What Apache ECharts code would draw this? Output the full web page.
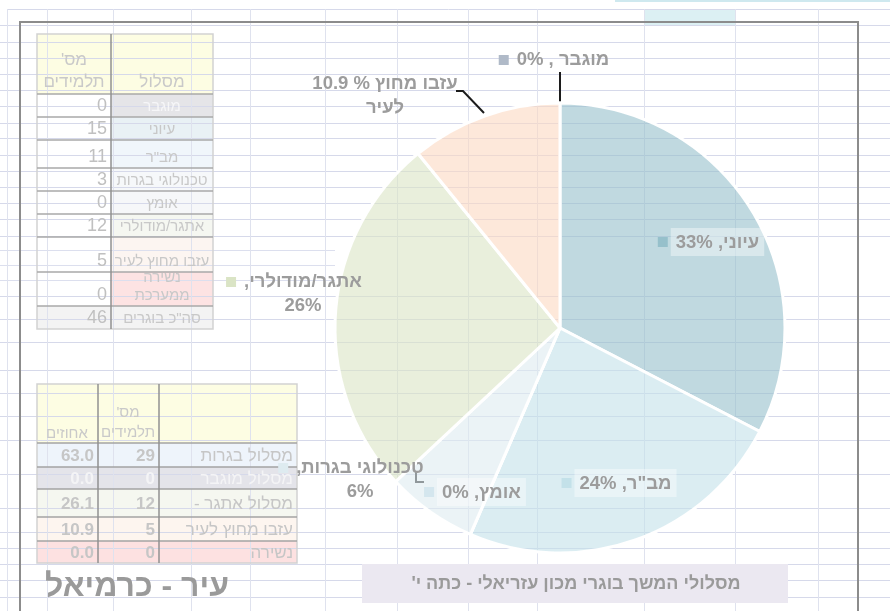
<!DOCTYPE html>
<html lang="he">
<head>
<meta charset="UTF-8">
<title>מסלולי המשך</title>
<script src="https://cdn.jsdelivr.net/npm/echarts@6/dist/echarts.min.js"></script>
<style>
  html, body { margin: 0; padding: 0; background: #fff; }
  #main { width: 890px; height: 611px; }
</style>
</head>
<body>
<div id="main" dir="rtl"></div>
<script>
// pie: slices clockwise from 12 o'clock
var pieNames = ['מוגבר', 'עיוני', 'מב"ר', 'אומץ', 'טכנולוגי בגרות', 'אתגר/מודולרי', 'עזבו מחוץ לעיר'];
var pieValues = [0, 15, 11, 0, 3, 12, 5];
var piePercents = ['0', '33', '24', '0', '6', '26', '10.9'];

// table 1 (top left)
var t1Head = ['מסלול', "מס'\nתלמידים"];
var t1Names = ['מוגבר', 'עיוני', 'מב"ר', 'טכנולוגי בגרות', 'אומץ', 'אתגר/מודולרי', 'עזבו מחוץ לעיר', 'נשירה\nממערכת', 'סה"כ בוגרים'];
var t1Counts = [0, 15, 11, 3, 0, 12, 5, 0, 46];

// table 2 (bottom left)
var t2Head = ['', "מס'\nתלמידים", 'אחוזים'];
var t2Names = ['מסלול בגרות', 'מסלול מוגבר', 'מסלול אתגר -', 'עזבו מחוץ לעיר', 'נשירה'];
var t2Counts = [29, 0, 12, 5, 0];
var t2Percents = ['63.0', '0.0', '26.1', '10.9', '0.0'];

var cityTitle = 'עיר - כרמיאל';
var chartTitle = "מסלולי המשך בוגרי מכון עזריאלי - כתה י'";

// ---- styling / layout ----
var FONT = "'Liberation Sans', Arial, sans-serif";
var pieBase = [[176,186,200],[150,192,203],[195,225,233],[212,230,238],[222,235,240],[218,228,197],[252,217,193]];
function rgba(c, a) { return 'rgba(' + c.join(',') + ',' + a + ')'; }

// label kind per slice and where it sits
var labelKind = ['plain', 'box', 'box', 'box', 'wrap', 'wrap', 'leave'];
var labelSpots = [[554,60],[711,242],[619,483],[475,492],[351,480],[294,294],[381,96]];
var leaderLines = {
  0: [[560,106],[560,72]],
  4: [[424,482],[416,482],[416,471]],
  6: [[484,113],[463,91],[456,91]]
};

function labelText(i) {
  var n = pieNames[i], p = piePercents[i];
  switch (labelKind[i]) {
    case 'plain': return '{m|}{t|' + n + ' , ' + p + '%}';
    case 'box': return '{m|}{g|}{b|' + n + ', ' + p + '%}';
    case 'wrap': return '{m|}{t|' + n + ',}\n{u|' + p + '%}';
    default:
      var parts = n.split(' ');
      return '{t|' + parts.slice(0, 2).join(' ') + ' % ' + p + '}\n{t|' + parts.slice(2).join(' ') + '}';
  }
}
function labelRich(i) {
  var base = { fontFamily: FONT, fontSize: 18.5, fontWeight: 'bold', color: '#9c9c9c', lineHeight: 24 };
  return {
    m: { width: 10, height: 10, backgroundColor: rgba(pieBase[i], 1) },
    g: { width: 3, height: 10 },
    t: Object.assign({ padding: [0, 0, 0, 8] }, base),
    u: Object.assign({ padding: [0, 0, 0, 18] }, base),
    b: Object.assign({ padding: [5, 5, 4, 5], backgroundColor: 'rgba(255,255,255,0.4)' }, base)
  };
}

// spreadsheet grid
var gridCols = [7, 47, 113, 191, 250, 325, 397, 468, 537, 644, 735, 818];
var gridRows = [25, 42, 58, 74, 90, 106, 123, 138, 155, 171, 187, 203, 219, 236, 296, 319, 342, 370, 393, 416, 440, 474, 508, 532, 548, 564, 580, 597];
var gridRowsLeft = [250, 265, 280];

var els = [];
function line(x1, y1, x2, y2, color, w) {
  els.push({ type: 'line', silent: true, shape: { x1: x1, y1: y1, x2: x2, y2: y2 }, style: { stroke: color, lineWidth: w } });
}
function rect(x, y, w, h, fill, stroke, lw) {
  els.push({ type: 'rect', silent: true, shape: { x: x, y: y, width: w, height: h },
    style: { fill: fill || 'none', stroke: stroke || null, lineWidth: lw || 0 } });
}
function text(str, x, y, size, color, align, valign, weight, lh) {
  els.push({ type: 'text', silent: true, x: x, y: y,
    style: { text: String(str), fontFamily: FONT, fontSize: size, fontWeight: weight || 'normal', fill: color,
      align: align, verticalAlign: valign, lineHeight: lh || size + 4 } });
}

// top strip
line(615, 0.5, 890, 0.5, '#cfe9ef', 3);
rect(644, 9, 91, 16, '#dcf0f3');

// table 1 fills
var t1X = [37, 111, 213], t1Top = 34, t1HeadBottom = 94;
var t1Bottoms = [117, 140, 168, 191, 214, 237, 272, 306, 329];
var t1Fill = ['#e5e5e8', '#e9f1f5', '#f0f6fb', '#f6f8fa', '#f6f7f9', '#f5f7f1', '#fcf5f1', '#fde3e3', '#f3f3f3'];
rect(t1X[0], t1Top, t1X[2] - t1X[0], t1HeadBottom - t1Top, '#fdfde3');
t1Bottoms.forEach(function (b, i) {
  var top = i ? t1Bottoms[i - 1] : t1HeadBottom;
  rect(t1X[1], top, t1X[2] - t1X[1], b - top, t1Fill[i]);
  rect(t1X[0], top, t1X[1] - t1X[0], b - top, i === t1Bottoms.length - 1 ? t1Fill[i] : '#ffffff');
});

// table 2 fills
var t2X = [37, 98, 159, 297], t2Top = 384, t2HeadBottom = 443;
var t2Bottoms = [467, 489, 517, 541, 563];
var t2Fill = ['#eef4fb', '#e4e4ea', '#f5f7f0', '#fdf5ef', '#fde1e1'];
rect(t2X[0], t2Top, t2X[3] - t2X[0], t2HeadBottom - t2Top, '#fdfde3');
t2Bottoms.forEach(function (b, i) {
  var top = i ? t2Bottoms[i - 1] : t2HeadBottom;
  rect(t2X[0], top, t2X[3] - t2X[0], b - top, t2Fill[i]);
});

// grid lines
line(7, 9.5, 890, 9.5, '#d6d9ea', 1);
gridRows.forEach(function (y) { line(0, y + 0.5, 890, y + 0.5, '#d6d9ea', 1); });
gridRowsLeft.forEach(function (y) { line(0, y + 0.5, 335, y + 0.5, '#dcdfee', 1); });
gridCols.forEach(function (x) { line(x + 0.5, 9, x + 0.5, 611, '#dfe2ee', 1); });

// table 1 borders + text
rect(t1X[0], t1Top, t1X[2] - t1X[0], t1Bottoms[8] - t1Top, null, '#d2d2d2', 1.5);
[t1HeadBottom].concat(t1Bottoms.slice(0, 8)).forEach(function (y) { line(t1X[0], y, t1X[2], y, '#a9a9a9', 1.5); });
line(t1X[1], t1Top, t1X[1], t1Bottoms[8], '#909090', 1.5);
text(t1Head[0], 162, 93, 17, '#c9c9c9', 'center', 'bottom');
text(t1Head[1], 74, 93, 17, '#c9c9c9', 'center', 'bottom', 'normal', 22);
t1Bottoms.forEach(function (b, i) {
  text(t1Names[i], 162, b - 1, 15, i === 0 ? '#f6f6f8' : '#c8c8c8', 'center', 'bottom', 'normal', 18);
  text(t1Counts[i], 107, b, 18, '#c0c0c0', 'right', 'bottom');
});

// table 2 borders + text
rect(t2X[0], t2Top, t2X[3] - t2X[0], t2Bottoms[4] - t2Top, null, '#d2d2d2', 1.5);
[t2HeadBottom].concat(t2Bottoms.slice(0, 4)).forEach(function (y) { line(t2X[0], y, t2X[3], y, '#a3a3a3', 1.5); });
line(t2X[1], t2Top, t2X[1], t2Bottoms[4], '#909090', 1.5);
line(t2X[2], t2Top, t2X[2], t2Bottoms[4], '#909090', 1.5);
text(t2Head[1], 128, 443, 15, '#c9c9c9', 'center', 'bottom', 'normal', 20);
text(t2Head[2], 67, 443, 15, '#c9c9c9', 'center', 'bottom');
t2Bottoms.forEach(function (b, i) {
  var top = i ? t2Bottoms[i - 1] : t2HeadBottom, mid = (top + b) / 2 + 1;
  var c = i === 1 ? '#f4f4f6' : '#c6c6c6';
  text(t2Names[i], 293, mid, 17, c, 'right', 'middle');
  text(t2Counts[i], 155, mid, 17, c, 'right', 'middle', 'bold');
  text(t2Percents[i], 94, mid, 17, c, 'right', 'middle', 'bold');
});

// chart frame, city name, chart title box
rect(20, 22, 838, 620, null, '#8c8c8c', 2);
text(cityTitle, 137, 587, 32, '#9a9a9a', 'center', 'middle', 'bold');
rect(362, 564, 426, 39, '#ebe8f1');
text(chartTitle, 576, 584, 18, '#9a9a9a', 'center', 'middle', 'bold');

var chart = echarts.init(document.getElementById('main'));
chart.setOption({
  animation: false,
  graphic: { elements: els },
  series: [{
    type: 'pie',
    center: [560, 328],
    radius: 225,
    startAngle: 90,
    clockwise: true,
    avoidLabelOverlap: false,
    emphasis: { disabled: true },
    itemStyle: { borderColor: '#ffffff', borderWidth: 3 },
    label: { show: true, align: 'center' },
    labelLine: { lineStyle: { color: '#1c1c1c', width: 2 } },
    labelLayout: function (p) {
      var i = p.dataIndex;
      var out = { x: labelSpots[i][0], y: labelSpots[i][1], align: 'center', verticalAlign: 'middle' };
      if (leaderLines[i]) out.labelLinePoints = leaderLines[i];
      return out;
    },
    data: pieNames.map(function (n, i) {
      return {
        name: n,
        value: pieValues[i],
        itemStyle: { color: rgba(pieBase[i], 0.6) },
        label: { formatter: labelText(i), rich: labelRich(i) },
        labelLine: { show: !!leaderLines[i] }
      };
    })
  }]
});
</script>
</body>
</html>
